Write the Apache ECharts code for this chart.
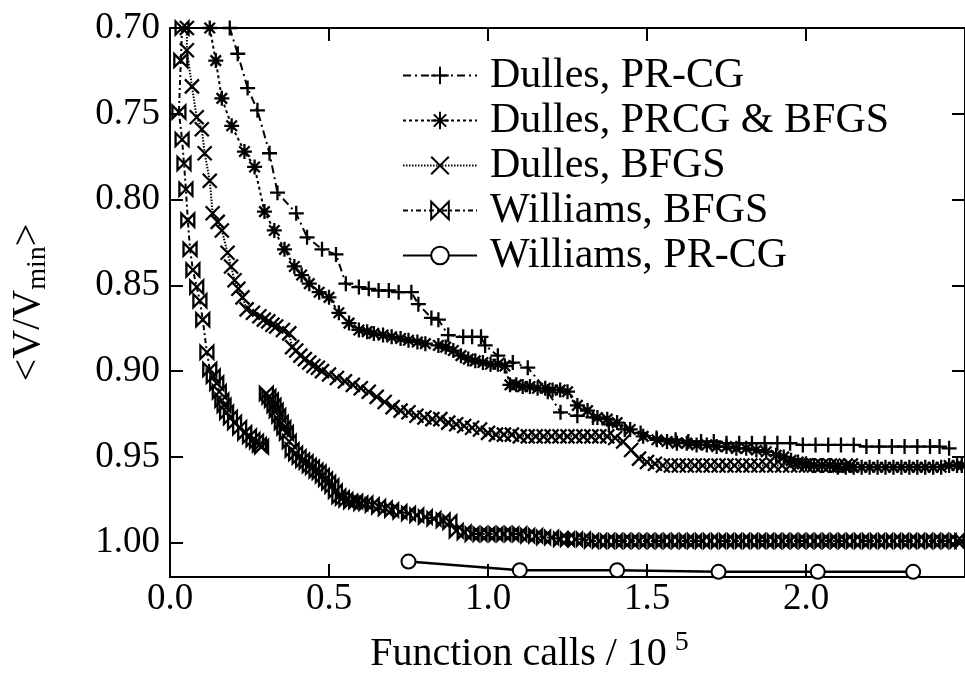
<!DOCTYPE html>
<html>
<head>
<meta charset="utf-8">
<script src="https://cdn.jsdelivr.net/npm/echarts@6/dist/echarts.min.js"></script>
<style>
html,body{margin:0;padding:0;background:#fff;}
#chart{width:965px;height:687px;}
</style>
</head>
<body>
<div id="chart"></div>
<script>
// ---- data (x in units of 10^5 function calls, y = <V/Vmin>) ----
const seriesNames = ['Dulles, PR-CG', 'Dulles, PRCG & BFGS', 'Dulles, BFGS', 'Williams, BFGS', 'Williams, PR-CG'];
const xTicks = [0.0, 0.5, 1.0, 1.5, 2.0];
const yTicks = [0.70, 0.75, 0.80, 0.85, 0.90, 0.95, 1.00];

const dullesPRCG = [
  [0.188,0.700],[0.213,0.715],[0.244,0.735],[0.275,0.748],[0.313,0.773],[0.338,0.796],[0.397,0.808],
  [0.431,0.822],[0.478,0.829],[0.522,0.832],[0.553,0.849],[0.594,0.851],[0.625,0.852],[0.656,0.853],
  [0.688,0.853],[0.719,0.854],[0.759,0.854],[0.781,0.861],[0.822,0.869],[0.844,0.870],[0.875,0.879],
  [0.922,0.880],[0.950,0.880],[0.978,0.880],[0.991,0.885],[1.031,0.891],[1.078,0.895],[1.125,0.898],
  [1.188,0.912],[1.228,0.924],[1.281,0.926],[1.330,0.927],[1.380,0.931],[1.430,0.934],[1.480,0.936],
  [1.530,0.939],[1.590,0.940],[1.630,0.941],[1.670,0.941],[1.710,0.941],[1.750,0.942],[1.790,0.942],
  [1.830,0.942],[1.870,0.942],[1.910,0.942],[1.950,0.942],[1.990,0.943],[2.030,0.943],[2.070,0.943],
  [2.110,0.943],[2.150,0.943],[2.190,0.944],[2.230,0.944],[2.270,0.944],[2.310,0.944],[2.350,0.944],
  [2.390,0.944],[2.420,0.944],[2.450,0.945]
];
const dullesPRCGBFGS = [
  [0.125,0.700],[0.144,0.719],[0.163,0.741],[0.194,0.757],[0.234,0.772],[0.266,0.781],[0.297,0.807],
  [0.328,0.818],[0.360,0.829],[0.391,0.839],[0.414,0.844],[0.438,0.849],[0.469,0.854],[0.500,0.857],
  [0.531,0.866],[0.563,0.872],[0.594,0.876],[0.620,0.877],[0.641,0.878],[0.670,0.879],[0.697,0.880],
  [0.725,0.881],[0.750,0.882],[0.778,0.883],[0.803,0.884],[0.844,0.885],[0.867,0.886],[0.891,0.888],
  [0.915,0.891],[0.938,0.893],[0.960,0.894],[0.984,0.895],[1.008,0.896],[1.031,0.896],[1.053,0.897],
  [1.069,0.908],[1.089,0.908],[1.109,0.909],[1.132,0.909],[1.156,0.910],[1.180,0.910],[1.203,0.911],
  [1.227,0.911],[1.250,0.912],[1.281,0.920],[1.313,0.923],[1.344,0.927],[1.375,0.928],[1.406,0.930],
  [1.447,0.934],[1.488,0.938],[1.531,0.940],[1.563,0.941],[1.594,0.942],[1.625,0.942],[1.656,0.943],
  [1.688,0.943],[1.719,0.944],[1.750,0.944],[1.781,0.945],[1.812,0.945],[1.844,0.946],[1.875,0.947],
  [1.906,0.949],[1.930,0.950],[1.953,0.952],[1.975,0.953],[2.000,0.954],[2.025,0.955],[2.050,0.955],
  [2.075,0.955],[2.100,0.956],[2.125,0.956],[2.150,0.956],[2.175,0.956],[2.200,0.956],[2.225,0.956],
  [2.250,0.956],[2.275,0.956],[2.300,0.956],[2.325,0.956],[2.350,0.956],[2.375,0.956],[2.400,0.956],
  [2.425,0.956],[2.450,0.955],[2.475,0.955],[2.490,0.955]
];
const dullesBFGS = [
  [0.053,0.700],[0.053,0.713],[0.069,0.734],[0.084,0.752],[0.100,0.759],[0.109,0.773],[0.125,0.789],
  [0.134,0.808],[0.150,0.813],[0.163,0.818],[0.181,0.831],[0.192,0.839],[0.203,0.847],[0.215,0.852],
  [0.228,0.857],[0.241,0.864],[0.261,0.866],[0.281,0.868],[0.295,0.870],[0.309,0.871],[0.322,0.873],
  [0.334,0.874],[0.355,0.876],[0.375,0.878],[0.384,0.886],[0.397,0.888],[0.410,0.891],[0.424,0.893],
  [0.438,0.895],[0.451,0.897],[0.465,0.898],[0.478,0.900],[0.500,0.902],[0.525,0.904],[0.550,0.906],
  [0.575,0.908],[0.600,0.910],[0.625,0.912],[0.650,0.915],[0.675,0.918],[0.700,0.921],[0.725,0.923],
  [0.750,0.924],[0.775,0.926],[0.800,0.927],[0.825,0.928],[0.850,0.928],[0.875,0.930],[0.900,0.931],
  [0.925,0.932],[0.950,0.933],[0.975,0.934],[1.000,0.936],[1.025,0.937],[1.050,0.937],[1.075,0.937],
  [1.100,0.938],[1.125,0.938],[1.150,0.938],[1.175,0.938],[1.200,0.938],[1.225,0.938],[1.250,0.938],
  [1.275,0.938],[1.300,0.938],[1.325,0.938],[1.350,0.938],[1.375,0.938],[1.400,0.939],[1.425,0.941],
  [1.450,0.946],[1.475,0.951],[1.500,0.953],[1.525,0.954],[1.550,0.955],[1.575,0.955],[1.600,0.955],
  [1.625,0.955],[1.650,0.955],[1.675,0.955],[1.700,0.955],[1.725,0.955],[1.750,0.955],[1.775,0.955],
  [1.800,0.955],[1.825,0.955],[1.850,0.955],[1.875,0.955],[1.900,0.955],[1.925,0.955],[1.950,0.955],
  [1.975,0.955],[2.000,0.955],[2.025,0.955],[2.050,0.955],[2.075,0.955],[2.100,0.955],[2.125,0.955],
  [2.141,0.955]
];
const williamsBFGS = [
  [0.038,0.700],[0.034,0.719],[0.028,0.749],[0.038,0.765],[0.044,0.779],[0.050,0.794],[0.056,0.812],
  [0.063,0.829],[0.072,0.841],[0.084,0.851],[0.094,0.859],[0.103,0.870],[0.116,0.889],[0.125,0.899],
  [0.136,0.903],[0.147,0.907],[0.155,0.912],[0.163,0.917],[0.170,0.920],[0.178,0.924],[0.190,0.927],
  [0.203,0.930],[0.219,0.933],[0.235,0.936],[0.250,0.938],[0.261,0.940],[0.272,0.941],[0.281,0.943],
  [0.288,0.944],[0.295,null],[0.303,0.913],[0.311,0.915],[0.319,0.917],[0.327,0.920],[0.334,0.923],
  [0.342,0.926],[0.350,0.930],[0.358,0.933],[0.366,0.936],[0.375,0.941],[0.384,0.946],[0.395,0.948],
  [0.406,0.950],[0.417,0.952],[0.428,0.953],[0.438,0.955],[0.448,0.956],[0.459,0.958],[0.469,0.959],
  [0.479,0.961],[0.489,0.963],[0.499,0.965],[0.509,0.967],[0.520,0.970],[0.531,0.973],[0.542,0.974],
  [0.553,0.975],[0.568,0.976],[0.584,0.976],[0.600,0.977],[0.616,0.977],[0.636,0.978],[0.656,0.979],
  [0.677,0.980],[0.697,0.981],[0.723,0.982],[0.750,0.983],[0.776,0.984],[0.803,0.985],[0.830,0.986],
  [0.859,0.987],[0.880,0.988],[0.900,0.993],[0.925,0.994],[0.950,0.995],[0.975,0.995],[1.000,0.995],
  [1.025,0.995],[1.050,0.995],[1.075,0.995],[1.100,0.995],[1.125,0.996],[1.150,0.996],[1.175,0.997],
  [1.200,0.997],[1.228,0.998],[1.250,0.998],[1.275,0.998],[1.300,0.998],[1.325,0.999],[1.350,0.999],
  [1.375,0.999],[1.400,0.999],[1.425,0.999],[1.450,0.999],[1.475,0.999],[1.500,0.999],[1.525,0.999],
  [1.550,0.999],[1.575,0.999],[1.600,0.999],[1.625,0.999],[1.650,0.999],[1.675,0.999],[1.700,0.999],
  [1.725,0.999],[1.750,0.999],[1.775,0.999],[1.800,0.999],[1.825,0.999],[1.850,0.999],[1.875,0.999],
  [1.900,0.999],[1.925,0.999],[1.950,0.999],[1.975,0.999],[2.000,0.999],[2.025,0.999],[2.050,0.999],
  [2.075,0.999],[2.100,0.999],[2.125,0.999],[2.150,0.999],[2.175,0.999],[2.200,0.999],[2.225,0.999],
  [2.250,0.999],[2.275,0.999],[2.300,0.999],[2.325,0.999],[2.350,0.999],[2.375,0.999],[2.400,0.999],
  [2.425,0.999],[2.450,0.999],[2.475,0.999],[2.490,0.999]
];
const williamsPRCG = [
  [0.750,1.011],[1.100,1.016],[1.406,1.016],[1.725,1.017],[2.037,1.017],[2.337,1.017]
];

// ---- chart ----
const FONT = '"Liberation Serif", "DejaVu Serif", serif';
const SYM_PLUS = 'path://M0,5L10,5M5,0L5,10';
const SYM_STAR = 'path://M0,5L10,5M5,0L5,10M1.5,1.5L8.5,8.5M8.5,1.5L1.5,8.5';
const SYM_X = 'path://M0,0L10,10M10,0L0,10';
const SYM_BOW = 'path://M0,0L0,10L10,0L10,10Z';

function toData(arr) {
  return arr.map(p => [p[0], p[1] === null ? '-' : p[1]]);
}
function mkSeries(name, data, symbol, size, dash, width) {
  const isCircle = symbol === 'emptyCircle';
  return {
    name: name,
    type: 'line',
    data: toData(data),
    xAxisIndex: 0, yAxisIndex: 0,
    symbol: symbol,
    symbolSize: size,
    showSymbol: true,
    connectNulls: false,
    animation: false,
    lineStyle: { color: '#000', width: width, type: dash },
    itemStyle: isCircle
      ? { color: '#000', borderColor: '#000', borderWidth: 2.5 }
      : { color: 'rgba(0,0,0,0)', borderColor: '#000', borderWidth: 2.3 },
    emphasis: { disabled: true }
  };
}

const chart = echarts.init(document.getElementById('chart'), null, { renderer: 'canvas' });
const axisCommon = {
  axisLine: { show: true, onZero: false, lineStyle: { color: '#000', width: 2 } },
  axisTick: { show: true, inside: true, length: 13, lineStyle: { color: '#000', width: 2 } },
  splitLine: { show: false }
};
chart.setOption({
  backgroundColor: '#fff',
  animation: false,
  grid: { left: 170, top: 28, width: 800, height: 549 },
  legend: {
    orient: 'vertical',
    left: 397, top: 48,
    itemWidth: 74, itemHeight: 22, itemGap: 0,
    data: seriesNames,
    selectedMode: false,
    textStyle: { fontFamily: FONT, fontSize: 42, color: '#000', lineHeight: 45, padding: [0, 0, 0, 8] }
  },
  xAxis: [
    Object.assign({
      type: 'value', position: 'bottom', min: 0, max: 2.5, interval: 0.5,
      axisLabel: {
        show: true, color: '#000', fontFamily: FONT, fontSize: 37, margin: 4, showMaxLabel: false,
        formatter: v => (xTicks.some(t => Math.abs(t - v) < 1e-6) ? v.toFixed(1) : '')
      },
      name: '{a|Function calls / 10}{s|5}',
      nameLocation: 'middle', nameGap: 52,
      nameTextStyle: {
        padding: [0, 76, 0, 0],
        rich: {
          a: { fontFamily: FONT, fontSize: 40, color: '#000' },
          s: { fontFamily: FONT, fontSize: 28, color: '#000', padding: [0, 0, 22, 8] }
        }
      }
    }, axisCommon),
    Object.assign({
      type: 'value', position: 'top', min: 0, max: 2.5, interval: 0.5,
      axisLabel: { show: false }
    }, axisCommon)
  ],
  yAxis: [
    Object.assign({
      type: 'value', position: 'left', inverse: true, min: 0.70, max: 1.02, interval: 0.05,
      axisLabel: {
        show: true, color: '#000', fontFamily: FONT, fontSize: 37, margin: 10, showMaxLabel: false,
        formatter: v => (yTicks.some(t => Math.abs(t - v) < 1e-6) ? v.toFixed(2) : '')
      },
      name: '{a|<V/V}{b|min}{a|>}',
      nameLocation: 'middle', nameGap: 118,
      nameTextStyle: {
        rich: {
          a: { fontFamily: FONT, fontSize: 40, color: '#000' },
          b: { fontFamily: FONT, fontSize: 28, color: '#000', padding: [20, 0, 0, 0] }
        }
      }
    }, axisCommon),
    Object.assign({
      type: 'value', position: 'right', inverse: true, min: 0.70, max: 1.02, interval: 0.05,
      axisLabel: { show: false }
    }, axisCommon)
  ],
  series: [
    mkSeries(seriesNames[0], dullesPRCG, SYM_PLUS, 15, [8, 4, 2, 4], 2),
    mkSeries(seriesNames[1], dullesPRCGBFGS, SYM_STAR, 15, [3, 3], 2),
    mkSeries(seriesNames[2], dullesBFGS, SYM_X, 14, [1.5, 1.5], 2),
    mkSeries(seriesNames[3], williamsBFGS, SYM_BOW, 13, [5, 3, 2, 3], 2),
    mkSeries(seriesNames[4], williamsPRCG, 'emptyCircle', 14, 'solid', 2.5)
  ]
});
</script>
</body>
</html>
